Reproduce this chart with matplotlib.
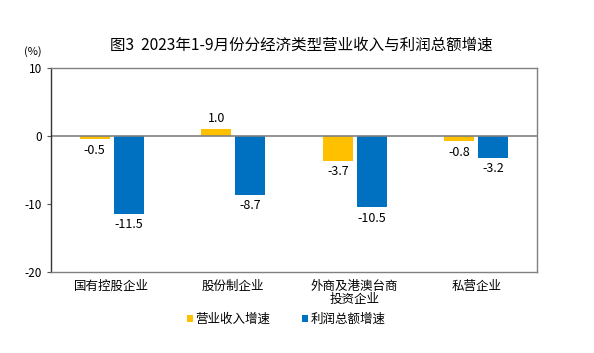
import matplotlib
matplotlib.use("Agg")
import matplotlib.pyplot as plt
import numpy as np

plt.rcParams['font.family'] = ['Noto Sans CJK SC', 'DejaVu Sans']

categories = ["国有控股企业", "股份制企业", "外商及港澳台商\n投资企业", "私营企业"]
revenue = [-0.5, 1.0, -3.7, -0.8]
profit = [-11.5, -8.7, -10.5, -3.2]
series_names = ["营业收入增速", "利润总额增速"]
yticks = [-20, -10, 0, 10]
title = "图3  2023年1-9月份分经济类型营业收入与利润总额增速"

c_rev = "#FFC000"
c_pro = "#0070C0"

fig = plt.figure(figsize=(5.94, 3.53), dpi=100)
ax = fig.add_axes([51/594, 1-272/353, (537-51)/594, (272-68)/353])

x = np.arange(len(categories))
w = 0.25
gap = 0.015
b1 = ax.bar(x - w/2 - gap, revenue, w, color=c_rev, label=series_names[0])
b2 = ax.bar(x + w/2 + gap, profit, w, color=c_pro, label=series_names[1])

for bars, vals in ((b1, revenue), (b2, profit)):
    for b, v in zip(bars, vals):
        cx = b.get_x() + b.get_width()/2
        if v >= 0:
            ax.annotate(f"{v:.1f}", (cx, v), xytext=(0, 3), textcoords="offset points",
                        ha="center", va="bottom", fontsize=9)
        else:
            ax.annotate(f"{v:.1f}", (cx, v), xytext=(0, -3), textcoords="offset points",
                        ha="center", va="top", fontsize=9)

ax.set_xlim(-0.5, len(categories) - 0.5)
ax.set_ylim(-20, 10)
ax.set_yticks(yticks)
ax.set_yticklabels([str(t) for t in yticks], fontsize=8.5)
ax.set_xticks(x)
ax.set_xticklabels(categories, fontsize=9, linespacing=1.0)
ax.tick_params(axis='x', length=0, pad=6)
ax.tick_params(axis='y', length=3, direction='out', color='#555555')
ax.axhline(0, color='#808080', lw=1.2)
for s in ax.spines.values():
    s.set_color('#808080')
    s.set_linewidth(1.0)
ax.spines['left'].set_color('#333333')

ax.text(-0.037, 1.08, "(%)", transform=ax.transAxes, fontsize=8, ha='center', va='center')

fig.text(0.508, 1-45/353, title, ha='center', va='center', fontsize=11.2, fontweight='medium')

leg = fig.legend(handles=[b1, b2], loc='center', bbox_to_anchor=(0.482, 1-319/353), ncol=2,
                 frameon=False, fontsize=9, handlelength=0.5, handleheight=0.5,
                 handletextpad=0.2, columnspacing=2.5)

fig.savefig("out.png", dpi=100)
